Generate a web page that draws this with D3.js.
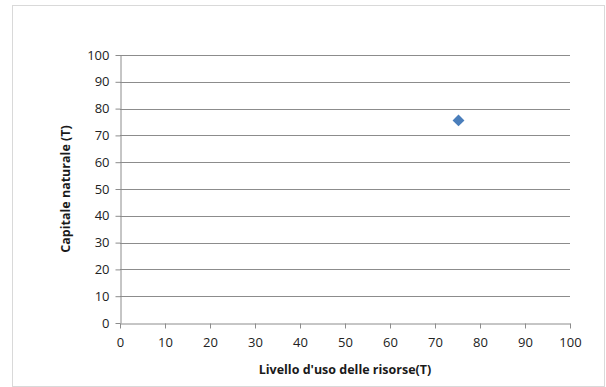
<!DOCTYPE html>
<html lang="it">
  <head>
    <meta charset="UTF-8" />
    <script src="https://cdn.jsdelivr.net/npm/d3@7"></script>
    <style>
      * {
        margin: 0;
        padding: 0;
      }
      body {
        background: #fff;
      }
      svg {
        display: block;
      }
    </style>
    <title>Capitale naturale</title>
  </head>
  <body>
    <div id="chart"></div>
    <script>
      // data
      const usoRisorse = [75];
      const capitaleNaturale = [75.6];
      const xTicks = [0, 10, 20, 30, 40, 50, 60, 70, 80, 90, 100];
      const yTicks = [0, 10, 20, 30, 40, 50, 60, 70, 80, 90, 100];
      const xTitle = "Livello d'uso delle risorse(T)";
      const yTitle = 'Capitale naturale (T)';

      const width = 606;
      const height = 387;
      const plot = { left: 120, right: 570, top: 55, bottom: 323 };
      const font = 'Open Sans, Liberation Sans, sans-serif';

      const svg = d3
        .select('#chart')
        .append('svg')
        .attr('width', width)
        .attr('height', height);

      // chart frame
      svg
        .append('rect')
        .attr('x', 12.5)
        .attr('y', 5.5)
        .attr('width', 592)
        .attr('height', 381)
        .attr('fill', '#fff')
        .attr('stroke', '#d9d9d9');

      const x = d3.scaleLinear().domain([0, 100]).range([plot.left, plot.right]);
      const y = d3.scaleLinear().domain([0, 100]).range([plot.bottom, plot.top]);

      // gridlines
      svg
        .append('g')
        .selectAll('line')
        .data(yTicks.filter((d) => d > 0))
        .join('line')
        .attr('x1', plot.left)
        .attr('x2', plot.right)
        .attr('y1', (d) => Math.round(y(d)) + 0.5)
        .attr('y2', (d) => Math.round(y(d)) + 0.5)
        .attr('stroke', '#8c8c8c')
        .attr('stroke-width', 1);

      // axes
      const xAxis = d3
        .axisBottom(x)
        .tickValues(xTicks)
        .tickSize(5)
        .tickPadding(9)
        .tickSizeOuter(0);
      const yAxis = d3
        .axisLeft(y)
        .tickValues(yTicks)
        .tickSize(5)
        .tickPadding(6)
        .tickSizeOuter(0);

      const gx = svg
        .append('g')
        .attr('transform', `translate(0,${plot.bottom + 0.5})`)
        .call(xAxis);
      const gy = svg
        .append('g')
        .attr('transform', `translate(${plot.left + 0.5},0)`)
        .call(yAxis);

      [gx, gy].forEach((g) => {
        g.select('.domain').attr('stroke', '#8c8c8c');
        g.selectAll('.tick line').attr('stroke', '#8c8c8c');
        g.selectAll('.tick text')
          .attr('fill', '#222')
          .attr('font-size', 13)
          .attr('font-family', font);
      });

      // axis titles
      svg
        .append('text')
        .text(xTitle)
        .attr('x', (plot.left + plot.right) / 2)
        .attr('y', 374)
        .attr('text-anchor', 'middle')
        .attr('font-size', 12.5)
        .attr('font-weight', 'bold')
        .attr('font-family', font)
        .attr('fill', '#1a1a1a');

      svg
        .append('text')
        .text(yTitle)
        .attr('transform', `translate(70,${(plot.top + plot.bottom) / 2}) rotate(-90)`)
        .attr('text-anchor', 'middle')
        .attr('font-size', 12.5)
        .attr('font-weight', 'bold')
        .attr('font-family', font)
        .attr('fill', '#1a1a1a');

      // points
      const points = usoRisorse.map((v, i) => ({ x: v, y: capitaleNaturale[i] }));
      svg
        .append('g')
        .selectAll('path')
        .data(points)
        .join('path')
        .attr('d', d3.symbol(d3.symbolDiamond2, 90))
        .attr('transform', (d) => `translate(${x(d.x) + 1},${y(d.y)})`)
        .attr('fill', '#4a7ebb');
    </script>
  </body>
</html>
